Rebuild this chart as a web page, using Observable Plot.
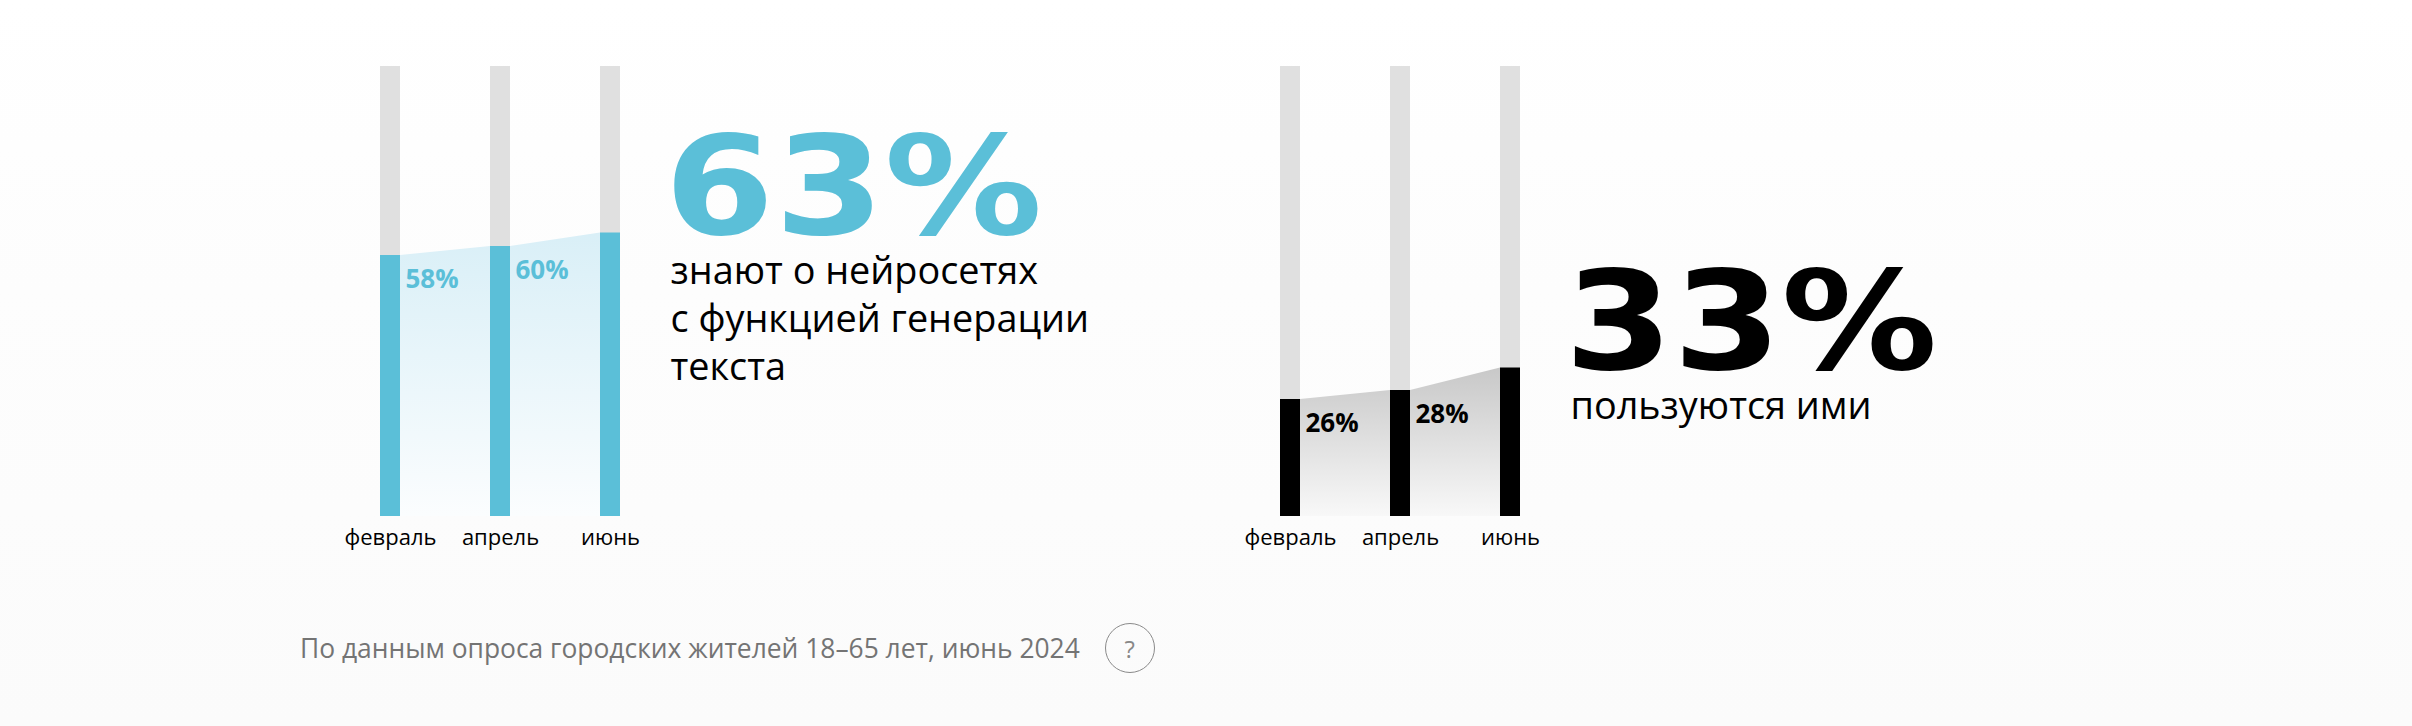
<!DOCTYPE html>
<html>
<head>
<meta charset="utf-8">
<script src="https://cdn.jsdelivr.net/npm/d3@7"></script>
<script src="https://cdn.jsdelivr.net/npm/@observablehq/plot@0.6"></script>
<style>
  html, body { margin: 0; padding: 0; }
  body {
    width: 2412px; height: 726px; overflow: hidden;
    background: linear-gradient(#ffffff 0%, #fdfdfd 40%, #fbfbfb 100%);
    font-family: "Open Sans", sans-serif;
  }
  #chart svg { display: block; }
  #caption {
    height: 96px; display: flex; align-items: center;
    padding-left: 300px; box-sizing: border-box;
    font-size: 26.4px; color: #747474; font-family: "Open Sans", sans-serif;
  }
  #caption .q {
    width: 48px; height: 48px; border: 1.5px solid #8a8a8a; border-radius: 50%;
    margin-left: 25px; display: flex; align-items: center; justify-content: center;
    font-size: 24px; color: #888888;
  }
</style>
</head>
<body>
<div id="chart"></div>
<div id="caption"></div>
<script>
// ---------- data ----------
const months = ["февраль", "апрель", "июнь"];
const panels = ["aware", "use"];
const awareValues = [58, 60, 63];
const useValues = [26, 28, 33];
const headlines = ["63%", "33%"];
const descriptionLines = [
  ["знают о нейросетях", "с функцией генерации", "текста"],
  ["пользуются ими"]
];
const captionText = "По данным опроса городских жителей 18–65 лет, июнь 2024";

// ---------- styling / layout ----------
const seriesValues = [awareValues, useValues];
const panelColor = {aware: "#5bbfd8", use: "#000000"};
const panelGrad = {aware: "url(#grad-aware)", use: "url(#grad-use)"};
const W = 2412, H = 600;
const mLeft = 280, facetW = 900, slot = 110;
const hw = 10 / slot; // half bar width in slot units

const rows = panels.flatMap((panel, k) =>
  months.map((month, i) => ({panel, i, month, value: seriesValues[k][i]})));
const areaPts = rows.flatMap(d => [{...d, x: d.i - hw}, {...d, x: d.i + hw}]);
const lastRows = panels.map(p => rows.filter(d => d.panel === p).at(-1));
const headRows = lastRows.map((d, k) => ({...d, text: headlines[k]}));
const descRows = lastRows.flatMap((d, k) =>
  descriptionLines[k].map((text, line) => ({...d, text, line})));

const descFont = 37.8, descLH = 48;

const chart = Plot.plot({
  width: W, height: H,
  marginLeft: mLeft, marginRight: W - mLeft - 2 * facetW,
  marginTop: 66, marginBottom: 84,
  style: {background: "transparent", fontFamily: "Open Sans"},
  fx: {domain: panels, paddingInner: 0, paddingOuter: 0, axis: null},
  x: {domain: [-1, facetW / slot - 1], axis: null},
  y: {domain: [0, 100], axis: null},
  color: {type: "identity"},
  marks: [
    Plot.areaY(areaPts, {fx: "panel", x: "x", y: "value", fill: d => panelGrad[d.panel], curve: "linear"}),
    Plot.rect(rows, {fx: "panel", x1: d => d.i - hw, x2: d => d.i + hw, y1: () => 0, y2: () => 100, fill: "#e0e0e0"}),
    Plot.rect(rows, {fx: "panel", x1: d => d.i - hw, x2: d => d.i + hw, y1: () => 0, y2: "value", fill: d => panelColor[d.panel]}),
    Plot.text(rows.filter(d => d.i < months.length - 1), {
      fx: "panel", x: d => d.i + hw, y: "value", text: d => d.value + "%",
      textAnchor: "start", lineAnchor: "bottom", dx: 5, dy: 32,
      fontSize: 26, fontWeight: 700, fill: d => panelColor[d.panel]
    }),
    Plot.text(headRows, {
      fx: "panel", x: d => d.i + hw, y: "value", text: "text",
      textAnchor: "start", lineAnchor: "bottom", dx: 44, dy: 1,
      fontSize: 137, fontWeight: 700, fontFamily: "DejaVu Sans", fill: d => panelColor[d.panel]
    }),
    ...[0, 1, 2].map(line => Plot.text(descRows.filter(d => d.line === line), {
      fx: "panel", x: d => d.i + hw, y: "value", text: "text",
      textAnchor: "start", lineAnchor: "bottom", dx: 50, dy: 51 + line * descLH,
      fontSize: descFont, fill: "#000000"
    })),
    Plot.axisX({
      ticks: [0, 1, 2], tickFormat: i => months[i], tickSize: 0, tickPadding: 13,
      fontSize: 22, fill: "#000000", label: null
    })
  ]
});

// gradients for the areas
const defs = d3.select(chart).insert("defs", ":first-child");
const g1 = defs.append("linearGradient").attr("id", "grad-aware").attr("x1", 0).attr("y1", 0).attr("x2", 0).attr("y2", 1);
g1.append("stop").attr("offset", "0%").attr("stop-color", "#d9eff7");
g1.append("stop").attr("offset", "100%").attr("stop-color", "#fbfdfe");
const g2 = defs.append("linearGradient").attr("id", "grad-use").attr("x1", 0).attr("y1", 0).attr("x2", 0).attr("y2", 1);
g2.append("stop").attr("offset", "0%").attr("stop-color", "#c8c8c8");
g2.append("stop").attr("offset", "100%").attr("stop-color", "#f8f8f8");

// stretch the headline figures to the wide look of the original
const headWidth = {"63%": 378, "33%": 373};
d3.select(chart).selectAll("text").each(function() {
  const t = this.textContent;
  if (headWidth[t]) {
    this.setAttribute("textLength", headWidth[t]);
    this.setAttribute("lengthAdjust", "spacingAndGlyphs");
  }
});

document.getElementById("chart").append(chart);
const cap = document.getElementById("caption");
const span = document.createElement("span");
span.textContent = captionText;
const q = document.createElement("span");
q.className = "q";
q.textContent = "?";
cap.append(span, q);
</script>
</body>
</html>
